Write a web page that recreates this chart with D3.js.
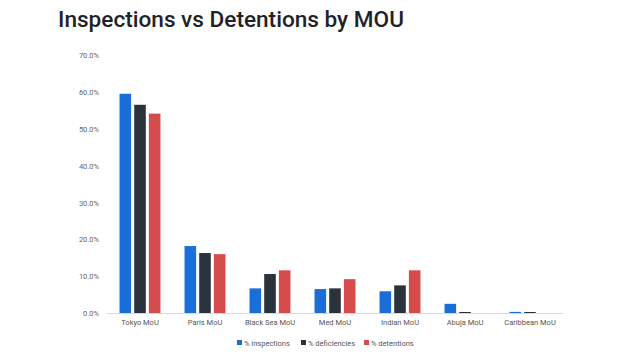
<!DOCTYPE html>
<html><head><meta charset="utf-8">
<script src="https://cdn.jsdelivr.net/npm/d3@7"></script>
<style>body{margin:0;background:#fff}svg{display:block}</style>
</head><body>
<svg id="c" width="640" height="360"></svg>
<script>
const categories = ["Tokyo MoU","Paris MoU","Black Sea MoU","Med MoU","Indian MoU","Abuja MoU","Caribbean MoU"];
const seriesNames = ["% inspections","% deficiencies","% detentions"];
const inspections = [59.6, 18.2, 6.7, 6.5, 5.9, 2.5, 0.3];
const deficiencies = [56.6, 16.3, 10.6, 6.7, 7.5, 0.2, 0.2];
const detentions = [54.2, 16.0, 11.6, 9.2, 11.6, 0.0, 0.0];
const yTicks = [0,10,20,30,40,50,60,70];
const colors = ["#1a6ed8","#2a333c","#d64b4b"];

const series = [inspections, deficiencies, detentions];
const svg = d3.select("#c");
const font = "Roboto, 'Noto Sans', sans-serif";

svg.append("text").attr("x",58).attr("y",27)
  .attr("font-family",font).attr("font-size",22.6).attr("font-weight",500)
  .attr("fill","#1f2328").text("Inspections vs Detentions by MOU");

const x0 = d3.scaleBand().domain(categories).range([107.5,562.5]).paddingInner(0.37).paddingOuter(0.185);
const x1 = d3.scaleBand().domain(seriesNames).range([0,x0.bandwidth()]).paddingInner(0.21);
const y = d3.scaleLinear().domain([0,70]).range([313,55.5]);

const yAxis = d3.axisLeft(y).tickValues(yTicks).tickFormat(d=>d.toFixed(1)+"%").tickSize(0).tickPadding(8);
const ya = svg.append("g").attr("transform","translate(107,0)").call(yAxis);
ya.select(".domain").remove();
ya.selectAll("text").attr("font-family",font).attr("font-size",7.5).attr("fill","#666");

svg.append("line").attr("x1",107).attr("x2",563).attr("y1",y(0)+0.5).attr("y2",y(0)+0.5)
  .attr("stroke","#d9d9d9").attr("stroke-width",1);

const g = svg.append("g");
categories.forEach((c,i)=>{
  series.forEach((s,j)=>{
    const v = s[i];
    if (v<=0) return;
    const h = Math.max(y(0)-y(v),1);
    g.append("rect").attr("x",x0(c)+x1(seriesNames[j])).attr("y",y(0)-h)
      .attr("width",x1.bandwidth()).attr("height",h).attr("fill",colors[j]);
  });
});

const xAxis = d3.axisBottom(x0).tickSize(0).tickPadding(7);
const xa = svg.append("g").attr("transform","translate(0,"+y(0)+")").call(xAxis);
xa.select(".domain").remove();
xa.selectAll("text").attr("font-family",font).attr("font-size",7.5).attr("fill","#555");

const leg = svg.append("g");
const legX = [237, 301, 364];
seriesNames.forEach((n,j)=>{
  const lg = leg.append("g").attr("transform","translate("+legX[j]+",343)");
  lg.append("rect").attr("x",0).attr("y",-3).attr("width",5).attr("height",5).attr("fill",colors[j]);
  lg.append("text").attr("x",7).attr("y",2.5).attr("font-family",font).attr("font-size",7.5)
    .attr("fill","#555").text(n);
});
</script>
</body></html>
